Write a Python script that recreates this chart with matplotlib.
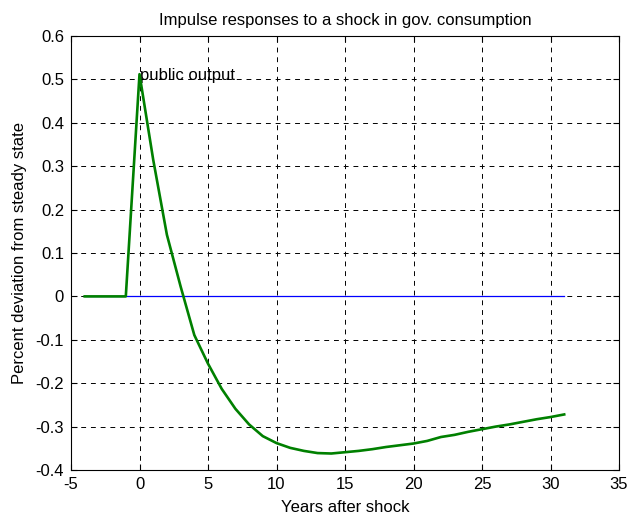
import numpy as np
import matplotlib
matplotlib.use("Agg")
import matplotlib.pyplot as plt

plt.rcParams['font.family'] = ['Liberation Sans', 'DejaVu Sans']

# --- data
years = np.arange(-4, 32)
public_output = [0.0, 0.0, 0.0, 0.0,
                 0.512, 0.315, 0.142, 0.023, -0.089, -0.155, -0.213, -0.259,
                 -0.295, -0.322, -0.338, -0.349, -0.356, -0.361, -0.362, -0.359,
                 -0.356, -0.352, -0.347, -0.343, -0.339, -0.333, -0.324, -0.319,
                 -0.312, -0.306, -0.300, -0.295, -0.289, -0.283, -0.278, -0.272]
zero_line = np.zeros(len(years))

xticks = np.arange(-5, 36, 5)
yticks = np.round(np.arange(-0.4, 0.61, 0.1), 1)
ytick_labels = ["-0.4", "-0.3", "-0.2", "-0.1", "0", "0.1", "0.2", "0.3", "0.4", "0.5", "0.6"]

fs = 12

fig = plt.figure(figsize=(6.31, 5.14), dpi=100)
ax = fig.add_axes([71 / 631, 1 - 470 / 514, 548 / 631, 434 / 514])

ax.plot(years, zero_line, color="#0000ff", lw=0.9, zorder=3)
ax.plot(years, public_output, color="#008000", lw=1.9, zorder=4)
ax.text(0, 0.51, "public output", ha="left", va="center", fontsize=fs)

ax.set_xlim(-5, 35)
ax.set_ylim(-0.4, 0.6)
ax.set_xticks(xticks)
ax.set_yticks(yticks)
ax.set_xticklabels([f"{v:g}" for v in xticks])
ax.set_yticklabels(ytick_labels)
ax.tick_params(direction="in", top=True, right=True, labelsize=fs, length=4, pad=5)
ax.grid(True, color="black", linestyle=(0, (5, 5)), linewidth=0.7)
for s in ax.spines.values():
    s.set_linewidth(0.8)

ax.set_title("Impulse responses to a shock in gov. consumption", fontsize=fs, pad=8)
ax.set_xlabel("Years after shock", fontsize=fs, labelpad=6)
ax.set_ylabel("Percent deviation from steady state", fontsize=fs, labelpad=6)

plt.savefig("out.png", dpi=100)
